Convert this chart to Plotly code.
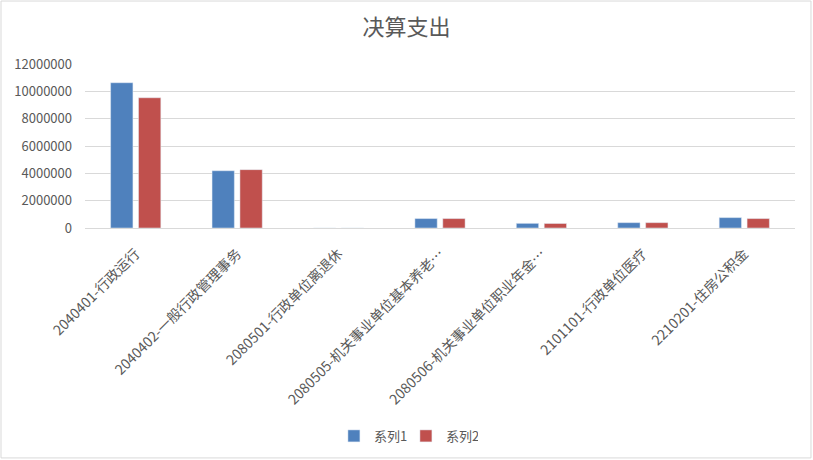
import plotly.graph_objects as go

categories = ["2040401-行政运行", "2040402-一般行政管理事务", "2080501-行政单位离退休",
              "2080505-机关事业单位基本养老…", "2080506-机关事业单位职业年金…",
              "2101101-行政单位医疗", "2210201-住房公积金"]
series1 = [10630000, 4190000, 0, 690000, 340000, 390000, 760000]
series2 = [9530000, 4270000, 0, 690000, 330000, 390000, 690000]
tick_vals = [0, 2000000, 4000000, 6000000, 8000000, 10000000, 12000000]

font = "Noto Sans CJK SC"
grey = "#595959"

fig = go.Figure()
fig.add_trace(go.Bar(x=categories, y=series1, name="系列1", marker_color="#4F81BD"))
fig.add_trace(go.Bar(x=categories, y=series2, name="系列2", marker_color="#C0504D"))

fig.update_layout(
    width=813, height=460,
    margin=dict(l=85, r=18, t=64, b=232, autoexpand=False),
    paper_bgcolor="white", plot_bgcolor="white",
    font=dict(family=font, color=grey, size=13),
    title=dict(text="决算支出", x=0.5, xanchor="center", y=0.94, yanchor="middle",
               font=dict(size=22, color=grey, family=font)),
    barmode="group", bargap=0.45, bargroupgap=0.2,
    showlegend=True,
    legend=dict(orientation="h", x=0.452, xanchor="center",
                y=-1.268, yanchor="middle", font=dict(size=13, color=grey),
                itemwidth=30, entrywidth=27),
    xaxis=dict(tickangle=-45, showgrid=False, showline=True, linecolor="#D9D9D9",
               tickfont=dict(size=14, color=grey), ticks="", ticklabelstandoff=11),
    yaxis=dict(range=[0, 12000000], tickvals=tick_vals, tickformat="d",
               showgrid=True, gridcolor="#D9D9D9", zeroline=False, showline=False,
               tickfont=dict(size=13, color=grey), ticks="", ticklabelstandoff=12),
    shapes=[dict(type="rect", xref="paper", yref="paper",
                 x0=-0.1183, x1=1.0225, y0=-1.402, y1=1.384,
                 line=dict(color="#D9D9D9", width=1))],
)

# page margin off so the chart sits at the window corner
fig.write_html("out.html", config={"displayModeBar": False},
               post_script="document.body.style.margin='0';")
